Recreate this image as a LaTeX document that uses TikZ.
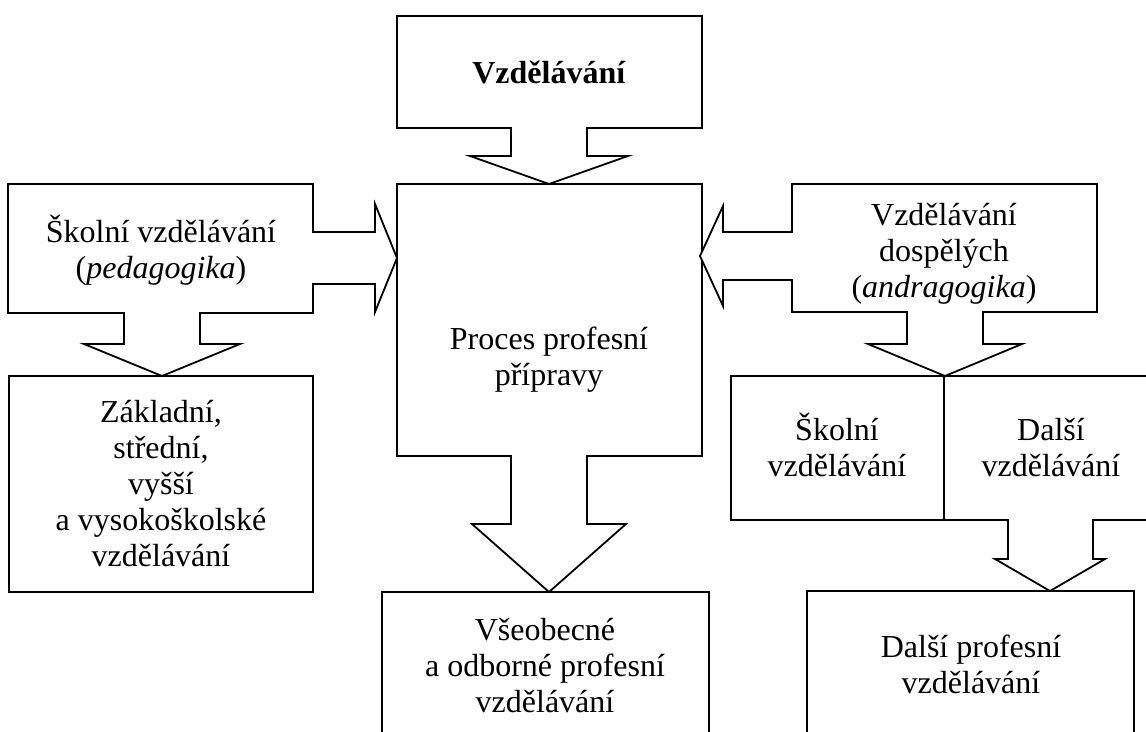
\documentclass[tikz,border=0pt]{standalone}
\usepackage{fontspec}
\setmainfont{Liberation Serif}
\newcommand{\fl}{\rule{0pt}{30pt}}
\begin{document}
\begin{tikzpicture}[x={(1pt,0)},y={(0,-1pt)},
  shapeline/.style={draw=black,line width=1.8pt,fill=white,line join=miter},
  lbl/.style={font=\fontsize{32}{36}\selectfont,align=center,inner sep=0pt,anchor=north}]
\useasboundingbox (0,0) rectangle (1146,731);
\clip (0,0) rectangle (1146,731);
% top box with downward arrow
\draw[shapeline] (397,16) -- (702,16) -- (702,128) -- (587,128) -- (587,156) -- (628,156) -- (549,184) -- (470,156) -- (511,156) -- (511,128) -- (397,128) -- cycle;
% central box with downward arrow
\draw[shapeline] (397,184) -- (702,184) -- (702,456) -- (587,456) -- (587,524) -- (626,524) -- (549,592) -- (472,524) -- (511,524) -- (511,456) -- (397,456) -- cycle;
% left box with right and down arrows
\draw[shapeline] (8,184) -- (313,184) -- (313,232) -- (375,232) -- (375,204) -- (397,258) -- (375,312) -- (375,284) -- (313,284) -- (313,313) -- (200,313) -- (200,344) -- (240,344) -- (162,376) -- (84,344) -- (124,344) -- (124,313) -- (8,313) -- cycle;
% right box with left and down arrows
\draw[shapeline] (792,184) -- (1097,184) -- (1097,312) -- (983,312) -- (983,344) -- (1022,344) -- (945,376) -- (868,344) -- (907,344) -- (907,312) -- (792,312) -- (792,280) -- (723,280) -- (723,306) -- (700,256) -- (723,206) -- (723,232) -- (792,232) -- cycle;
% Zakladni box
\draw[shapeline] (9,376) rectangle (313,592);
% split box with down arrow
\draw[shapeline] (731,376) -- (1160,376) -- (1160,520) -- (1093,520) -- (1093,559) -- (1105,559) -- (1050,591) -- (995,559) -- (1008,559) -- (1008,520) -- (731,520) -- cycle;
\draw[line width=1.8pt] (944,376) -- (944,520);
% bottom boxes
\draw[shapeline] (807,591) rectangle (1134,750);
\draw[shapeline] (382,592) rectangle (709,750);
% texts
\node[lbl] (tT) at (549,53) {\fl\textbf{Vzdělávání}};
\node[lbl] (tL) at (161,212) {\fl Školní vzdělávání\\(\textit{pedagogika})};
\node[lbl] (tR) at (944,195) {\fl Vzdělávání\\dospělých\\(\textit{andragogika})};
\node[lbl] (tC) at (549,319) {\fl Proces profesní\\přípravy};
\node[lbl] (tZ) at (161,392) {\fl Základní,\\střední,\\vyšší\\a vysokoškolské\\vzdělávání};
\node[lbl] (tS1) at (837,410) {\fl Školní\\vzdělávání};
\node[lbl] (tS2) at (1051,410) {\fl Další\\vzdělávání};
\node[lbl] (tD) at (971,627) {\fl Další profesní\\vzdělávání};
\node[lbl] (tV) at (545,610) {\fl Všeobecné\\a odborné profesní\\vzdělávání};
\end{tikzpicture}
\end{document}
